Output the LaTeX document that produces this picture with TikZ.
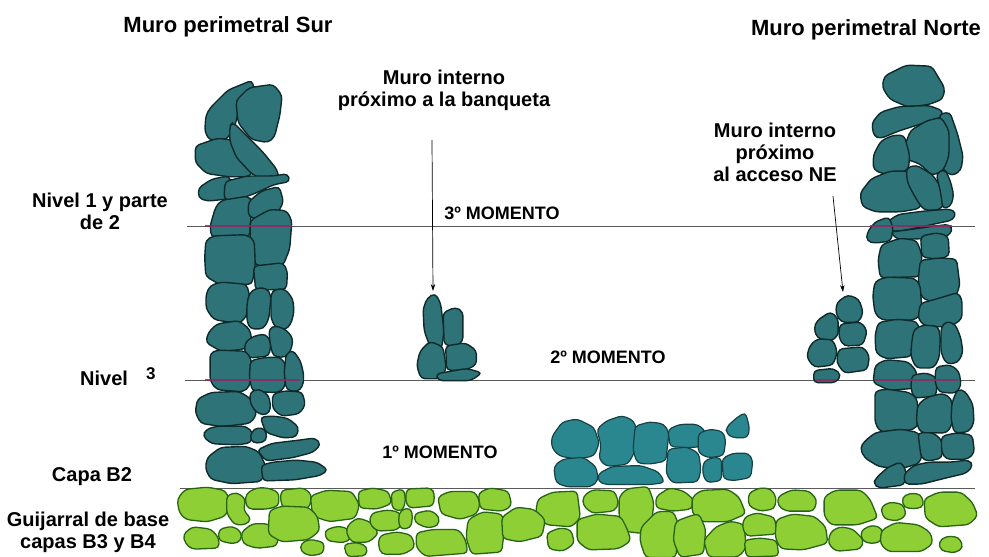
\documentclass[tikz,border=0pt]{standalone}
\usepackage{fontspec}
\setmainfont{Liberation Sans}[BoldFont={Liberation Sans Bold}]
\usetikzlibrary{arrows.meta}

\definecolor{stonefill}{HTML}{2E7378}
\definecolor{stonefillB}{HTML}{2A8790}
\definecolor{stoneedge}{HTML}{0F2A2B}
\definecolor{pebblefill}{HTML}{8FCF36}
\definecolor{pebbleedge}{HTML}{276414}
\definecolor{levelline}{HTML}{5A5A5A}
\definecolor{levelmark}{HTML}{8E2A62}

\tikzset{
  stone/.style={fill=stonefill, draw=stoneedge, line width=1.4pt, line join=round, rounded corners=4pt},
  stoneB/.style={fill=stonefillB, draw=stoneedge!75!stonefillB, line width=1.2pt, line join=round, rounded corners=4pt},
  pebble/.style={fill=pebblefill, draw=pebbleedge, line width=1.3pt, line join=round, rounded corners=4pt},
  level/.style={draw=levelline, line width=0.8pt},
  levelover/.style={draw=levelmark, line width=1.1pt, opacity=0.85},
  lbl/.style={font=\fontsize{20}{22}\selectfont\bfseries, inner sep=0pt, align=center},
  ttl/.style={font=\fontsize{22}{24}\selectfont\bfseries, inner sep=0pt},
  phase/.style={font=\fontsize{18}{20}\selectfont\bfseries, inner sep=0pt},
  pointer/.style={draw=black, line width=0.7pt, -{Stealth[length=7pt,width=4.5pt]}}
}

% a stone: polygon grown slightly about the centre of its own extent
\makeatletter
\newcommand{\anystone}[3]{%
  \def\st@minx{9999}\def\st@maxx{-9999}\def\st@miny{9999}\def\st@maxy{-9999}%
  \st@scan#3\relax
  \pgfmathsetmacro\st@cx{(\st@minx+\st@maxx)/2}%
  \pgfmathsetmacro\st@cy{(\st@miny+\st@maxy)/2}%
  \draw[#1, scale around={#2:(\st@cx,\st@cy)}] plot[sharp cycle] coordinates {#3};}
\def\st@scan{\@ifnextchar(\st@scan@{}}
\def\st@scan@(#1,#2){%
  \pgfmathsetmacro\st@minx{min(\st@minx,#1)}%
  \pgfmathsetmacro\st@maxx{max(\st@maxx,#1)}%
  \pgfmathsetmacro\st@miny{min(\st@miny,#2)}%
  \pgfmathsetmacro\st@maxy{max(\st@maxy,#2)}%
  \st@scan}
\makeatother
\newcommand{\wallstone}[1]{\anystone{stone}{1.1}{#1}}
\newcommand{\floorstone}[1]{\anystone{stoneB}{1.06}{#1}}
\newcommand{\basestone}[1]{\anystone{pebble}{1.12}{#1}}

\begin{document}
\begin{tikzpicture}[x=1pt,y=-1pt]
\fill[white] (0,0) rectangle (989,557);
\begin{scope}
\clip (0,0) rectangle (989,557);

% level lines
\coordinate (l1a) at (187,226); \coordinate (l1b) at (975,226);
\coordinate (l3a) at (185,380); \coordinate (l3b) at (975,380);
\coordinate (b2a) at (180,488); \coordinate (b2b) at (975,488);
\draw[level] (l1a) -- (l1b);
\draw[level] (l3a) -- (l3b);
\draw[level] (b2a) -- (b2b);

% ---------- south perimeter wall ----------
\wallstone{(208,115) (212,108) (228,92) (250,83) (252,92) (238,108) (235,123) (227,137) (212,138) (207,130)}
\wallstone{(238,102) (250,90) (272,87) (280,97) (278,115) (273,135) (267,140) (252,137) (240,122)}
\wallstone{(198,147) (218,140) (235,142) (247,155) (252,168) (247,175) (228,175) (208,172) (198,162)}
\wallstone{(232,128) (235,125) (245,135) (262,152) (275,168) (277,178) (268,180) (252,172) (238,157) (232,142)}
\wallstone{(200,188) (212,180) (228,177) (230,185) (227,198) (208,200) (200,197)}
\wallstone{(228,182) (248,177) (272,177) (285,175) (287,182) (272,185) (255,193) (235,200) (227,198)}
\wallstone{(217,208) (222,202) (247,198) (250,203) (248,235) (230,237) (213,235) (212,225)}
\wallstone{(250,202) (262,192) (278,188) (282,202) (275,215) (258,218) (250,215)}
\wallstone{(252,222) (270,212) (285,213) (290,222) (288,248) (282,263) (257,263) (252,248)}
\wallstone{(208,242) (215,238) (245,237) (252,242) (253,265) (250,282) (222,283) (208,275) (207,258)}
\wallstone{(255,267) (282,264) (286,272) (285,288) (257,289)}
\wallstone{(212,287) (222,284) (245,286) (248,298) (245,315) (238,322) (215,318) (208,308) (208,295)}
\wallstone{(250,295) (256,290) (266,290) (270,297) (268,318) (263,327) (251,327) (248,320) (248,305)}
\wallstone{(272,295) (276,291) (285,291) (292,300) (293,312) (290,323) (285,328) (277,327) (272,318)}
\wallstone{(210,333) (218,325) (238,322) (248,330) (250,342) (243,348) (222,350) (208,342)}
\wallstone{(246,343) (254,337) (265,335) (270,343) (268,355) (250,357) (246,353)}
\wallstone{(270,330) (276,327) (286,331) (292,339) (290,350) (285,356) (274,355) (271,343)}
\wallstone{(212,355) (218,352) (245,353) (250,362) (248,385) (242,390) (218,388) (212,380)}
\wallstone{(252,362) (265,359) (280,359) (285,368) (283,387) (277,391) (254,390) (251,378)}
\wallstone{(287,355) (293,352) (300,362) (303,375) (302,385) (297,390) (287,388) (285,372)}
\wallstone{(200,400) (212,394) (238,393) (249,400) (254,414) (248,422) (222,425) (203,422) (198,412)}
\wallstone{(251,393) (259,390) (268,396) (270,408) (266,414) (257,412) (251,403)}
\wallstone{(274,395) (285,392) (301,393) (304,405) (298,413) (282,415) (274,408)}
\wallstone{(208,430) (218,427) (244,427) (251,433) (249,442) (237,444) (213,443) (205,436)}
\wallstone{(252,432) (258,428) (265,430) (266,440) (257,443) (251,440)}
\wallstone{(262,418) (273,417) (287,419) (297,427) (295,436) (283,437) (267,432)}
\wallstone{(210,458) (222,449) (245,448) (257,453) (264,468) (259,480) (232,482) (213,478) (208,468)}
\wallstone{(260,450) (273,444) (298,441) (313,439) (318,445) (311,452) (292,457) (268,460)}
\wallstone{(264,466) (274,463) (296,461) (315,463) (325,470) (318,475) (295,479) (266,480)}

% ---------- north perimeter wall ----------
\wallstone{(887,77) (907,67) (930,68) (942,88) (940,98) (927,103) (908,105) (892,98) (885,87)}
\wallstone{(875,123) (883,113) (900,108) (927,107) (940,112) (938,118) (922,123) (900,130) (883,137) (877,135)}
\wallstone{(940,117) (950,115) (957,135) (962,155) (960,168) (952,173) (943,167) (947,142)}
\wallstone{(907,145) (912,132) (927,123) (940,120) (947,132) (947,155) (942,168) (932,173) (920,162) (908,158)}
\wallstone{(875,155) (882,142) (893,137) (903,137) (908,155) (907,168) (897,172) (883,172) (875,168)}
\wallstone{(863,193) (873,180) (890,173) (907,173) (918,182) (922,195) (917,207) (900,210) (877,210) (865,205)}
\wallstone{(908,170) (917,167) (932,176) (940,188) (943,202) (938,208) (924,208) (917,198) (909,183)}
\wallstone{(937,175) (945,171) (950,182) (953,195) (950,205) (943,207) (941,192)}
\wallstone{(890,222) (900,215) (923,212) (947,210) (953,213) (950,220) (927,225) (903,230) (893,230)}
\wallstone{(868,233) (875,223) (888,218) (892,228) (890,240) (875,242) (868,240)}
\wallstone{(893,232) (910,230) (930,227) (947,225) (950,231) (943,237) (923,238) (900,239)}
\wallstone{(883,246) (900,240) (915,242) (920,255) (918,275) (882,276) (880,260)}
\wallstone{(922,237) (937,234) (947,237) (948,255) (937,258) (923,256)}
\wallstone{(922,262) (940,260) (955,261) (958,285) (953,298) (935,301) (923,296) (920,280)}
\wallstone{(877,283) (887,279) (913,280) (918,286) (920,312) (913,318) (883,318) (877,312) (875,296)}
\wallstone{(922,304) (940,299) (956,294) (960,300) (960,318) (950,325) (927,325) (920,318)}
\wallstone{(880,324) (897,321) (915,323) (918,332) (912,342) (910,355) (887,357) (878,352) (877,336)}
\wallstone{(915,331) (923,327) (937,328) (939,338) (938,357) (933,366) (917,366) (912,355) (913,342)}
\wallstone{(942,329) (947,323) (955,326) (960,338) (962,352) (957,361) (947,362) (942,352)}
\wallstone{(877,366) (887,361) (907,363) (915,372) (913,387) (890,389) (875,382)}
\wallstone{(913,376) (927,374) (936,379) (935,395) (915,397) (912,388)}
\wallstone{(937,368) (950,366) (958,372) (960,385) (955,392) (940,391) (936,382)}
\wallstone{(877,393) (887,391) (908,394) (915,399) (917,422) (912,428) (882,430) (877,422)}
\wallstone{(919,406) (927,399) (942,395) (950,400) (951,422) (946,431) (922,431) (918,422)}
\wallstone{(953,403) (958,391) (965,393) (972,405) (973,422) (968,430) (955,431) (952,418)}
\wallstone{(867,442) (877,434) (900,431) (916,434) (921,448) (917,462) (900,467) (880,465) (867,457) (863,448)}
\wallstone{(919,434) (933,434) (941,441) (941,457) (928,460) (922,457)}
\wallstone{(943,437) (957,434) (971,436) (973,452) (967,458) (947,458) (943,451)}
\wallstone{(877,478) (888,468) (900,463) (905,472) (903,484) (880,487) (875,483)}
\wallstone{(907,474) (916,466) (930,463) (950,463) (966,461) (970,466) (964,473) (943,478) (923,483) (908,483)}

% ---------- inner wall near the bench ----------
\wallstone{(428,300) (435,296) (440,305) (443,330) (441,346) (432,349) (425,330) (424,310)}
\wallstone{(444,314) (455,309) (462,313) (462,340) (455,345) (445,343)}
\wallstone{(421,352) (430,343) (442,348) (445,368) (440,377) (422,377) (418,365)}
\wallstone{(447,347) (465,344) (475,351) (475,364) (465,369) (448,369)}
\wallstone{(438,374) (466,369) (480,373) (470,380) (440,380)}

% ---------- inner wall near the NE access ----------
\wallstone{(838,303) (848,296) (858,300) (862,312) (858,321) (842,321) (837,313)}
\wallstone{(818,321) (830,313) (837,319) (837,335) (830,340) (818,337) (815,328)}
\wallstone{(841,325) (860,323) (866,331) (862,344) (845,345) (840,337)}
\wallstone{(811,346) (818,340) (832,341) (836,352) (832,364) (815,366) (808,357)}
\wallstone{(840,350) (862,348) (868,356) (866,369) (845,372) (838,362)}
\wallstone{(815,371) (833,369) (840,375) (835,382) (815,382)}

% ---------- first-phase wall ----------
\floorstone{(553,437) (563,423) (577,420) (593,428) (598,443) (593,455) (577,458) (560,455) (553,447)}
\floorstone{(555,467) (563,460) (583,458) (595,467) (597,480) (590,486) (567,486) (557,482)}
\floorstone{(598,430) (607,422) (622,417) (633,422) (637,437) (633,453) (627,463) (607,465) (600,458) (602,445)}
\floorstone{(600,474) (613,467) (640,466) (657,472) (663,482) (650,484) (607,484) (600,481)}
\floorstone{(636,427) (650,423) (663,425) (668,433) (665,460) (650,463) (638,462) (634,450)}
\floorstone{(669,430) (680,425) (697,425) (705,432) (703,446) (687,447) (671,446)}
\floorstone{(669,450) (687,448) (698,454) (700,470) (697,481) (673,482) (667,473)}
\floorstone{(699,434) (710,430) (722,432) (725,440) (723,455) (708,457) (699,452)}
\floorstone{(727,427) (737,418) (745,413) (749,428) (747,437) (733,437) (727,433)}
\floorstone{(704,462) (713,458) (721,459) (721,480) (707,482) (703,473)}
\floorstone{(723,459) (733,454) (748,454) (752,461) (750,477) (733,480) (724,478)}

% ---------- pebble base (layers B3 and B4) ----------
\basestone{(180,500) (187,491) (207,489) (223,492) (228,503) (223,515) (207,520) (188,518) (182,512)}
\basestone{(228,497) (237,494) (245,500) (243,510) (250,518) (245,523) (235,523) (228,513)}
\basestone{(248,494) (257,489) (267,489) (277,493) (277,505) (267,508) (250,508) (247,502)}
\basestone{(283,491) (303,489) (310,495) (308,507) (285,508) (282,500)}
\basestone{(313,497) (327,492) (350,493) (357,505) (353,517) (330,520) (315,515)}
\basestone{(360,492) (373,489) (387,492) (390,503) (377,508) (361,507)}
\basestone{(392,493) (403,490) (405,500) (402,510) (393,508)}
\basestone{(408,490) (430,489) (433,494) (432,505) (410,507) (407,500)}
\basestone{(440,498) (450,493) (473,493) (478,503) (475,513) (460,518) (443,513)}
\basestone{(480,494) (490,489) (507,492) (510,505) (502,510) (482,508)}
\basestone{(540,500) (553,494) (575,493) (578,517) (570,525) (547,523) (538,513)}
\basestone{(185,535) (193,528) (210,530) (217,538) (217,547) (193,548) (187,543)}
\basestone{(220,530) (232,527) (240,532) (240,540) (233,543) (220,540)}
\basestone{(243,533) (253,525) (267,525) (277,533) (275,545) (257,547) (245,543)}
\basestone{(272,512) (283,508) (307,509) (315,517) (317,530) (307,538) (283,540) (271,533)}
\basestone{(302,544) (310,540) (323,543) (322,553) (310,555) (302,551)}
\basestone{(326,531) (337,527) (347,529) (350,538) (343,542) (328,540)}
\basestone{(349,526) (358,519) (370,523) (377,533) (368,541) (353,541) (348,533)}
\basestone{(345,545) (357,543) (366,547) (365,555) (348,556)}
\basestone{(373,514) (387,511) (398,513) (401,523) (396,529) (378,530) (371,523)}
\basestone{(401,511) (410,509) (412,517) (410,527) (401,528) (399,520)}
\basestone{(416,514) (430,511) (438,517) (437,525) (427,527) (416,522)}
\basestone{(382,536) (397,533) (410,536) (413,547) (403,553) (383,553) (380,544)}
\basestone{(419,534) (433,531) (457,531) (463,540) (465,552) (427,555) (419,547)}
\basestone{(470,521) (483,514) (500,516) (503,524) (500,550) (473,552) (468,537)}
\basestone{(504,518) (517,509) (533,511) (543,520) (540,535) (520,540) (505,537)}
\basestone{(548,534) (560,529) (570,531) (573,543) (563,550) (550,548)}
\basestone{(585,497) (593,491) (613,492) (617,503) (613,510) (593,512) (585,505)}
\basestone{(621,498) (628,491) (647,489) (652,503) (650,523) (642,531) (626,529) (621,517)}
\basestone{(658,497) (670,489) (683,492) (692,500) (690,508) (673,510) (658,507)}
\basestone{(695,498) (703,492) (727,491) (737,498) (743,513) (727,520) (703,520) (695,512)}
\basestone{(750,494) (760,489) (770,490) (775,498) (773,508) (760,510) (750,505)}
\basestone{(780,497) (792,491) (808,492) (815,500) (812,510) (787,510) (780,505)}
\basestone{(827,498) (837,492) (860,492) (868,500) (875,517) (857,523) (833,523) (827,515)}
\basestone{(882,508) (890,503) (902,505) (905,515) (897,520) (885,518)}
\basestone{(903,498) (910,494) (920,495) (923,505) (917,508) (905,507)}
\basestone{(927,500) (940,494) (960,494) (970,503) (975,515) (967,523) (940,525) (928,517)}
\basestone{(580,521) (597,516) (619,518) (625,530) (628,540) (617,547) (590,548) (580,540)}
\basestone{(643,528) (657,514) (672,514) (677,527) (674,555) (647,555) (642,540)}
\basestone{(677,523) (690,518) (698,516) (704,530) (702,552) (681,555) (675,540)}
\basestone{(706,540) (717,528) (730,523) (742,526) (744,547) (737,555) (710,555)}
\basestone{(746,518) (757,514) (773,518) (775,533) (748,535) (744,527)}
\basestone{(746,541) (760,539) (775,541) (777,555) (748,556)}
\basestone{(779,521) (793,516) (813,518) (823,527) (825,542) (803,548) (783,547) (778,537)}
\basestone{(832,533) (840,528) (852,530) (862,540) (859,548) (837,550) (830,543)}
\basestone{(862,531) (872,526) (881,529) (881,540) (872,543) (863,540)}
\basestone{(884,531) (897,524) (917,526) (928,533) (930,543) (920,550) (890,550) (883,543)}
\basestone{(940,542) (947,537) (958,538) (962,547) (955,552) (942,550)}

% level marks seen through the wall faces
\draw[levelover] (205,226) -- (292,226);
\draw[levelover] (205,380) -- (300,380);
\draw[levelover] (870,226) -- (952,226);
\draw[levelover] (875,380) -- (958,380);
\draw[levelover] (815,380) -- (836,380);
\end{scope}

% ---------- texts ----------
\node[ttl] (tSur) at (228,27) {Muro perimetral Sur};
\node[ttl] (tNorte) at (866,30) {Muro perimetral Norte};
\node[lbl] (tBanq) at (444,90) {Muro interno\\próximo a la banqueta};
\node[lbl] (tNE) at (775,152) {Muro interno\\próximo\\al acceso NE};
\node[lbl] (tN1) at (100,211) {Nivel 1 y parte\\de 2};
\node[lbl, anchor=base west] (tN3) at (80,385) {Nivel};
\node[lbl, anchor=base west, font=\fontsize{17}{19}\selectfont\bfseries] (tN3b) at (146,379) {3};
\node[lbl] (tB2) at (92,477) {Capa B2};
\node[lbl] (tBase) at (88,532) {Guijarral de base\\capas B3 y B4};
\node[phase] (m3) at (502,213) {3º MOMENTO};
\node[phase] (m2) at (608,357) {2º MOMENTO};
\node[phase] (m1) at (440,452) {1º MOMENTO};

% pointers
\coordinate (pBs) at (432,140); \coordinate (pBe) at (433,291);
\coordinate (pNs) at (833,196); \coordinate (pNe) at (843,292);
\draw[pointer] (pBs) -- (pBe);
\draw[pointer] (pNs) -- (pNe);

\pgfresetboundingbox
\useasboundingbox (0,0) rectangle (989,557);
\end{tikzpicture}
\end{document}
